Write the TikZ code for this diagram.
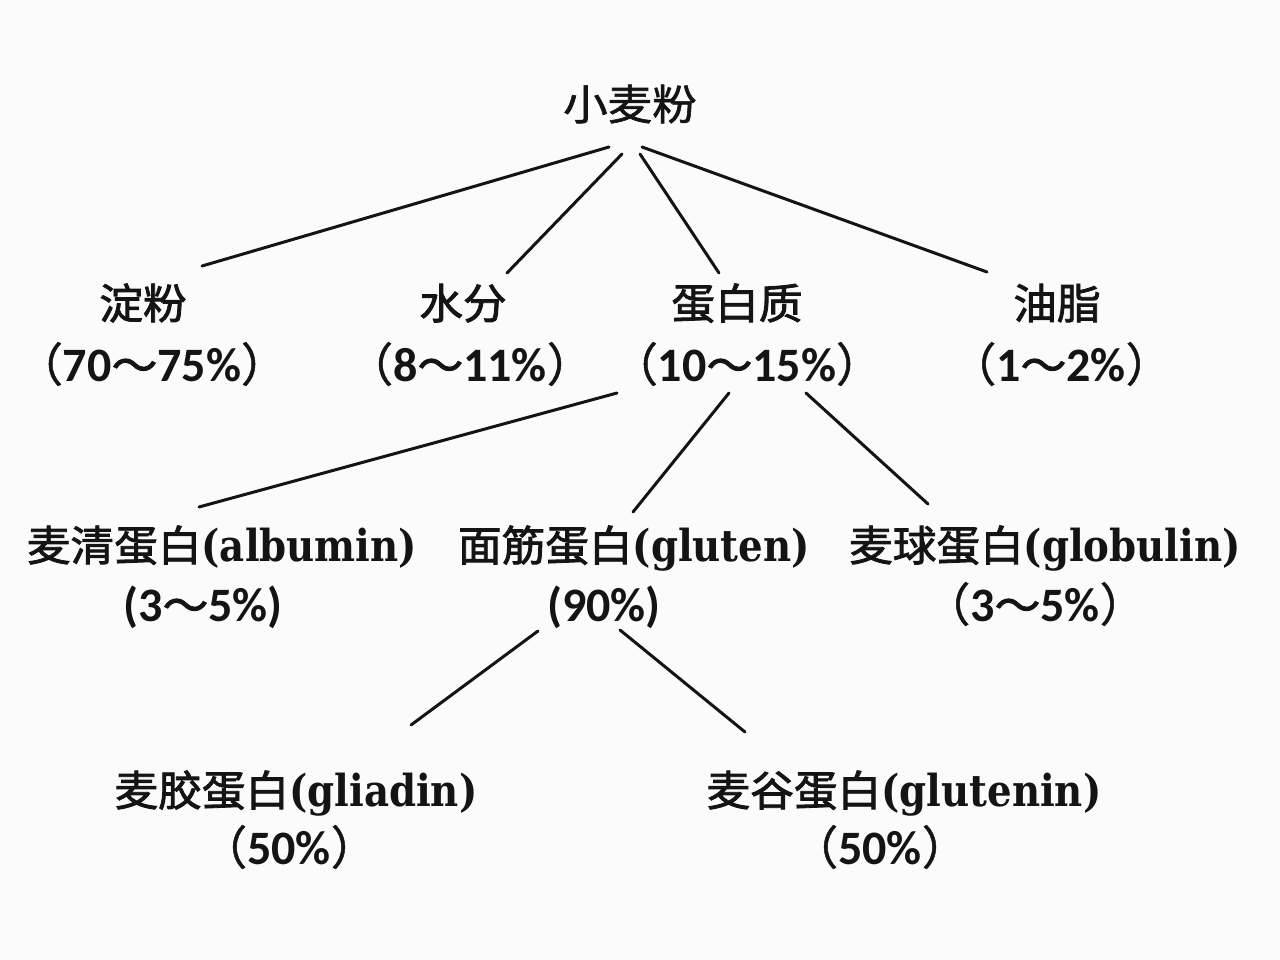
\documentclass[tikz,border=0pt]{standalone}
\usepackage{fontspec}
\newfontfamily\cjkm{Noto Sans CJK SC}[FakeBold=1.4,FakeStretch=1.06]
\newfontfamily\cjkb{Noto Sans CJK SC}[FakeBold=2,FakeStretch=1.04]
\newfontfamily\cjkp{Noto Sans CJK SC}[FakeBold=1]
\newfontfamily\latf{DejaVu Serif}[FakeStretch=0.88]
\newfontfamily\numf{Carlito}
\newcommand\LP{{\cjkp\fontsize{46}{50}\selectfont （}}
\newcommand\RP{{\cjkp\fontsize{46}{50}\selectfont ）}}
\newcommand\TL{{\cjkb\fontsize{44}{50}\selectfont ～}}
\newcommand\NN[1]{{\numf\bfseries #1}}
\newcommand\LT[1]{{\latf\bfseries\fontsize{44}{50}\selectfont #1}}
\definecolor{bgc}{HTML}{FBFBFB}
\definecolor{ink}{HTML}{141414}
\begin{document}
\begin{tikzpicture}[x=1pt,y=-1pt,
  namenode/.style={inner sep=0pt,text height=32pt,text depth=0pt,anchor=center,text=ink,
    font=\fontsize{42}{50}\selectfont},
  pctnode/.style={inner sep=0pt,text height=31pt,text depth=0pt,anchor=center,text=ink,
    font=\fontsize{48}{50}\selectfont},
  conn/.style={draw=ink,line width=3pt,line cap=round}]
\useasboundingbox[fill=bgc] (0,0) rectangle (1280,960);

% root
\node[namenode] (root) at (630,104) {\cjkm 小麦粉};

% level 1
\node[namenode] (dianfen) at (143,303) {\cjkb 淀粉};
\node[pctnode]  (dianfenp) at (152,366) {\LP\NN{70}\TL\NN{75\%}\RP};
\node[namenode] (shuifen) at (463,303) {\cjkb 水分};
\node[pctnode]  (shuifenp) at (470,366) {\LP\NN{8}\TL\NN{11\%}\RP};
\node[namenode] (danbai) at (737,303) {\cjkb 蛋白质};
\node[pctnode]  (danbaip) at (747,366) {\LP\NN{10}\TL\NN{15\%}\RP};
\node[namenode] (youzhi) at (1057,303) {\cjkb 油脂};
\node[pctnode]  (youzhip) at (1061,366) {\LP\NN{1}\TL\NN{2\%}\RP};

% level 2
\node[namenode] (albumin) at (222,545) {\cjkb 麦清蛋白\LT{(albumin)}};
\node[pctnode]  (albuminp) at (203,606) {\NN{(3}\TL\NN{5\%)}};
\node[namenode] (gluten) at (634,545) {\cjkb 面筋蛋白\LT{(gluten)}};
\node[pctnode]  (glutenp) at (604,606) {\NN{(90\%)}};
\node[namenode] (globulin) at (1045,545) {\cjkb 麦球蛋白\LT{(globulin)}};
\node[pctnode]  (globulinp) at (1035,606) {\LP\NN{3}\TL\NN{5\%}\RP};

% level 3
\node[namenode] (gliadin) at (296,790) {\cjkb 麦胶蛋白\LT{(gliadin)}};
\node[pctnode]  (gliadinp) at (289,849) {\LP\NN{50\%}\RP};
\node[namenode] (glutenin) at (904,790) {\cjkb 麦谷蛋白\LT{(glutenin)}};
\node[pctnode]  (gluteninp) at (880,849) {\LP\NN{50\%}\RP};

% connectors
\draw[conn] ([shift={(-21,43)}]root.center) -- ([shift={(59,-37)}]dianfen.center);
\draw[conn] ([shift={(-8,50)}]root.center) -- ([shift={(44,-30)}]shuifen.center);
\draw[conn] ([shift={(10,50)}]root.center) -- ([shift={(-18,-30)}]danbai.center);
\draw[conn] ([shift={(12,43)}]root.center) -- ([shift={(-70,-31)}]youzhi.center);

\draw[conn] ([shift={(-130,27)}]danbaip.center) -- ([shift={(-23,-38)}]albumin.center);
\draw[conn] ([shift={(-18,27)}]danbaip.center) -- ([shift={(-1,-33)}]gluten.center);
\draw[conn] ([shift={(59,27)}]danbaip.center) -- ([shift={(-117,-41)}]globulin.center);

\draw[conn] ([shift={(-66,25)}]glutenp.center) -- ([shift={(115,-65)}]gliadin.center);
\draw[conn] ([shift={(16,24)}]glutenp.center) -- ([shift={(-159,-58)}]glutenin.center);
\end{tikzpicture}
\end{document}
